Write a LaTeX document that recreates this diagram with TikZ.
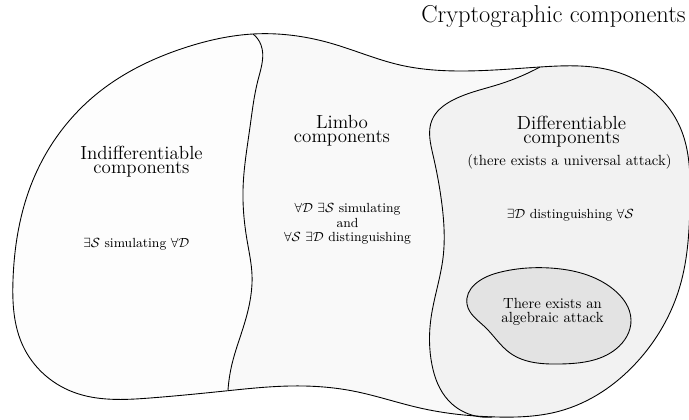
\documentclass[tikz,border=0pt]{standalone}
\usepackage{xcolor}
\usetikzlibrary{hobby}
\definecolor{indifffill}{HTML}{FDFDFD}
\definecolor{limbofill}{HTML}{F9F9F9}
\definecolor{difffill}{HTML}{F2F2F2}
\definecolor{algfill}{HTML}{E3E3E3}
\begin{document}
\begin{tikzpicture}[x=0.68pt,y=-0.68pt,use Hobby shortcut,
  border/.style={line width=0.6pt,black},
  heading/.style={inner sep=0pt,anchor=base,align=center,font=\fontsize{12.9}{9.5}\selectfont},
  body/.style={inner sep=0pt,anchor=base,align=center,font=\fontsize{10}{9.5}\selectfont},
  note/.style={inner sep=0pt,anchor=base,align=center,font=\fontsize{9}{9.9}\selectfont},
  title/.style={inner sep=0pt,anchor=base east,font=\fontsize{16.6}{18}\selectfont}]
\useasboundingbox (0,0) rectangle (689,419);

% outline of the whole family of components
\def\outerpath{(13,280) .. (33,180) .. (93,97) .. (187,47) .. (253,34)
  .. (330,43) .. (400,65) .. (460,71) .. (540,67) .. (620,73) .. (680,127)
  .. (690,200) .. (680,286) .. (637,362) .. (560,411) .. (497,417)
  .. (420,408) .. (353,391) .. (290,386) .. (225,391) .. (150,398)
  .. (73,392) .. (23,346)}

% boundary between indifferentiable and limbo components
\def\limbopath{(253,34) .. (261,45) .. (258,80) .. (250,127) .. (243,190)
  .. (247,240) .. (252,275) .. (244,325) .. (232,364) .. (228,390)}

% boundary of the differentiable components
\def\diffpath{(540,67) .. (500,84) .. (453,100) .. (432,120) .. (433,155)
  .. (442,205) .. (443,258) .. (431,318) .. (432,365) .. (448,400) .. (492,417)}

% the algebraic attack region
\def\algpath{(467,304) .. (497,273) .. (550,268) .. (613,289) .. (631,320)
  .. (616,349) .. (560,364) .. (510,353) .. (485,327)}

\fill[indifffill,closed=true] \outerpath;
\begin{scope}
  \clip[closed=true] \outerpath;
  \fill[limbofill] \limbopath -- (228,440) -- (720,440) -- (720,0) -- (253,0) -- cycle;
  \fill[difffill] \diffpath -- (492,440) -- (720,440) -- (720,0) -- (540,0) -- cycle;
\end{scope}
\fill[algfill,closed=true] \algpath;

\draw[border] \limbopath;
\draw[border] \diffpath;
\draw[border,closed=true] \algpath;
\draw[border,closed=true] \outerpath;

% labels
\node[title] (crypto) at (686,23) {Cryptographic components};

\node[heading] (indiff) at (141.5,173.3) {Indifferentiable\\components};
\node[note] (indiffrule) at (136.3,247.3) {$\exists\mathcal{S}$ simulating $\forall\mathcal{D}$};

\node[heading] (limbo) at (342,142.7) {Limbo\\components};
\node[note] (limborule) at (347.5,241.7) {$\forall\mathcal{D}$ $\exists\mathcal{S}$ simulating\\and\\$\forall\mathcal{S}$ $\exists\mathcal{D}$ distinguishing};

\node[heading] (diff) at (571.5,143.3) {Differentiable\\components};
\node[body] (diffnote) at (569.5,165) {(there exists a universal attack)};
\node[note] (diffrule) at (570.3,218.3) {$\exists\mathcal{D}$ distinguishing $\forall\mathcal{S}$};

\node[body] (alg) at (552.5,322.3) {There exists an\\algebraic attack};
\end{tikzpicture}
\end{document}
